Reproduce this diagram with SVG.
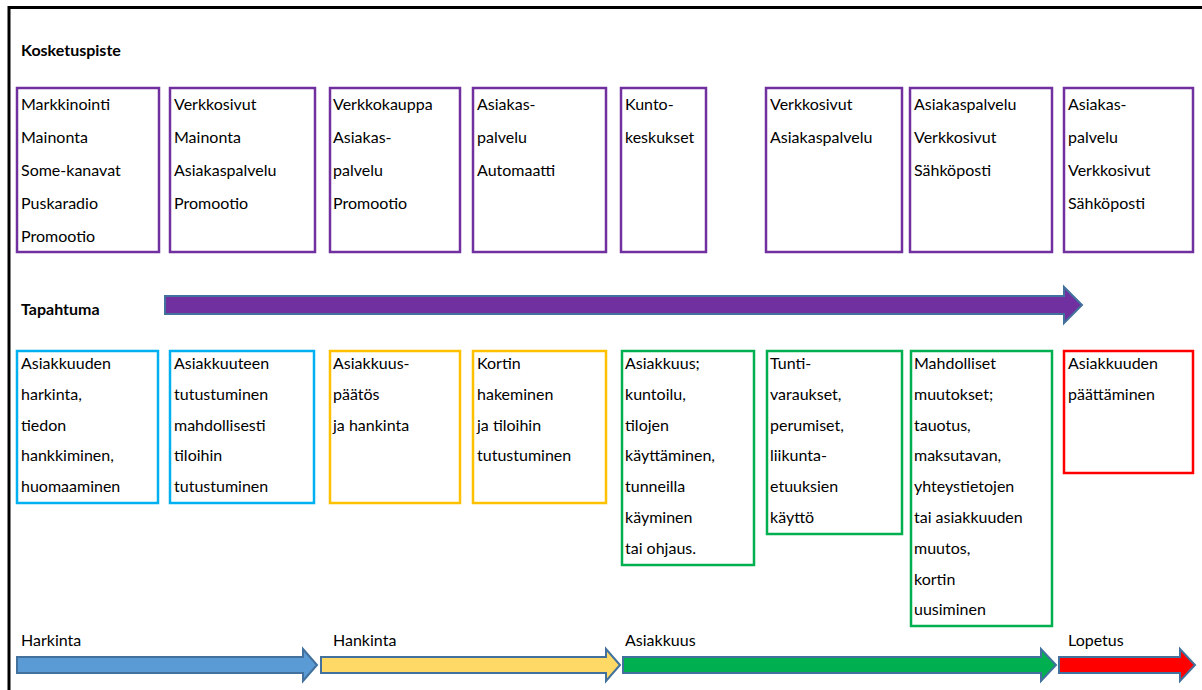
<svg xmlns="http://www.w3.org/2000/svg" width="1202" height="690" viewBox="0 0 1202 690">
<style>
text{font-family:Lato,"Liberation Sans",sans-serif;font-size:16px;fill:#000}
.h{font-weight:bold}
.box{fill:#fff;stroke-width:2.5}
.pu{stroke:#7030A0}.cy{stroke:#00B0F0}.ye{stroke:#FFC000}.gr{stroke:#00B050}.rd{stroke:#FF0000}
.arr{stroke:#41719C;stroke-width:2;stroke-linejoin:miter}
</style>
<rect x="0" y="0" width="1202" height="690" fill="#fff"/>
<path d="M9,690 V7.5 H1202" fill="none" stroke="#000" stroke-width="3"/>
<text class="h" x="21" y="56">Kosketuspiste</text>
<text class="h" x="21" y="315">Tapahtuma</text>

<g id="tp1"><rect class="box pu" x="17" y="88" width="142" height="164"/><text x="21" y="110"><tspan x="21">Markkinointi</tspan><tspan x="21" dy="33">Mainonta</tspan><tspan x="21" dy="33">Some-kanavat</tspan><tspan x="21" dy="33">Puskaradio</tspan><tspan x="21" dy="33">Promootio</tspan></text></g>
<g id="tp2"><rect class="box pu" x="170" y="88" width="145" height="164"/><text x="174" y="110"><tspan x="174">Verkkosivut</tspan><tspan x="174" dy="33">Mainonta</tspan><tspan x="174" dy="33">Asiakaspalvelu</tspan><tspan x="174" dy="33">Promootio</tspan></text></g>
<g id="tp3"><rect class="box pu" x="330" y="88" width="130" height="164"/><text x="333" y="110"><tspan x="333">Verkkokauppa</tspan><tspan x="333" dy="33">Asiakas-</tspan><tspan x="333" dy="33">palvelu</tspan><tspan x="333" dy="33">Promootio</tspan></text></g>
<g id="tp4"><rect class="box pu" x="473" y="88" width="133" height="164"/><text x="477" y="110"><tspan x="477">Asiakas-</tspan><tspan x="477" dy="33">palvelu</tspan><tspan x="477" dy="33">Automaatti</tspan></text></g>
<g id="tp5"><rect class="box pu" x="621" y="88" width="85" height="164"/><text x="625" y="110"><tspan x="625">Kunto-</tspan><tspan x="625" dy="33">keskukset</tspan></text></g>
<g id="tp6"><rect class="box pu" x="766" y="88" width="136" height="164"/><text x="770" y="110"><tspan x="770">Verkkosivut</tspan><tspan x="770" dy="33">Asiakaspalvelu</tspan></text></g>
<g id="tp7"><rect class="box pu" x="910" y="88" width="142" height="164"/><text x="914" y="110"><tspan x="914">Asiakaspalvelu</tspan><tspan x="914" dy="33">Verkkosivut</tspan><tspan x="914" dy="33">Sähköposti</tspan></text></g>
<g id="tp8"><rect class="box pu" x="1064" y="88" width="129" height="164"/><text x="1068" y="110"><tspan x="1068">Asiakas-</tspan><tspan x="1068" dy="33">palvelu</tspan><tspan x="1068" dy="33">Verkkosivut</tspan><tspan x="1068" dy="33">Sähköposti</tspan></text></g>

<g id="ev1"><rect class="box cy" x="17" y="351" width="141" height="152"/><text x="21" y="369"><tspan x="21">Asiakkuuden</tspan><tspan x="21" dy="30.8">harkinta,</tspan><tspan x="21" dy="30.8">tiedon</tspan><tspan x="21" dy="30.8">hankkiminen,</tspan><tspan x="21" dy="30.8">huomaaminen</tspan></text></g>
<g id="ev2"><rect class="box cy" x="170" y="351" width="144" height="152"/><text x="174" y="369"><tspan x="174">Asiakkuuteen</tspan><tspan x="174" dy="30.8">tutustuminen</tspan><tspan x="174" dy="30.8">mahdollisesti</tspan><tspan x="174" dy="30.8">tiloihin</tspan><tspan x="174" dy="30.8">tutustuminen</tspan></text></g>
<g id="ev3"><rect class="box ye" x="330" y="351" width="130" height="152"/><text x="333" y="369"><tspan x="333">Asiakkuus-</tspan><tspan x="333" dy="30.8">päätös</tspan><tspan x="333" dy="30.8">ja hankinta</tspan></text></g>
<g id="ev4"><rect class="box ye" x="473" y="351" width="133" height="152"/><text x="477" y="369"><tspan x="477">Kortin</tspan><tspan x="477" dy="30.8">hakeminen</tspan><tspan x="477" dy="30.8">ja tiloihin</tspan><tspan x="477" dy="30.8">tutustuminen</tspan></text></g>
<g id="ev5"><rect class="box gr" x="622" y="351" width="132" height="214"/><text x="625" y="369"><tspan x="625">Asiakkuus;</tspan><tspan x="625" dy="30.8">kuntoilu,</tspan><tspan x="625" dy="30.8">tilojen</tspan><tspan x="625" dy="30.8">käyttäminen,</tspan><tspan x="625" dy="30.8">tunneilla</tspan><tspan x="625" dy="30.8">käyminen</tspan><tspan x="625" dy="30.8">tai ohjaus.</tspan></text></g>
<g id="ev6"><rect class="box gr" x="767" y="351" width="135" height="183"/><text x="770" y="369"><tspan x="770">Tunti-</tspan><tspan x="770" dy="30.8">varaukset,</tspan><tspan x="770" dy="30.8">perumiset,</tspan><tspan x="770" dy="30.8">liikunta-</tspan><tspan x="770" dy="30.8">etuuksien</tspan><tspan x="770" dy="30.8">käyttö</tspan></text></g>
<g id="ev7"><rect class="box gr" x="911" y="351" width="141" height="275"/><text x="914" y="369"><tspan x="914">Mahdolliset</tspan><tspan x="914" dy="30.8">muutokset;</tspan><tspan x="914" dy="30.8">tauotus,</tspan><tspan x="914" dy="30.8">maksutavan,</tspan><tspan x="914" dy="30.8">yhteystietojen</tspan><tspan x="914" dy="30.8">tai asiakkuuden</tspan><tspan x="914" dy="30.8">muutos,</tspan><tspan x="914" dy="30.8">kortin</tspan><tspan x="914" dy="30.8">uusiminen</tspan></text></g>
<g id="ev8"><rect class="box rd" x="1064" y="351" width="129" height="122"/><text x="1068" y="369"><tspan x="1068">Asiakkuuden</tspan><tspan x="1068" dy="30.8">päättäminen</tspan></text></g>

<g id="phases">
<text x="21" y="646">Harkinta</text>
<text x="333" y="646">Hankinta</text>
<text x="625" y="646">Asiakkuus</text>
<text x="1068" y="646">Lopetus</text>
</g>

<g id="connectors">
<polygon class="arr" fill="#7030A0" points="165,296 1064,296 1064,287 1082,305 1064,323 1064,314 165,314"/>
<polygon class="arr" fill="#5B9BD5" points="17,657 303,657 303,649 317,665 303,681 303,673 17,673"/>
<polygon class="arr" fill="#FFD966" points="321,657 606,657 606,649 620,665 606,681 606,673 321,673"/>
<polygon class="arr" fill="#00B050" points="623,657 1041,657 1041,649 1056,665 1041,681 1041,673 623,673"/>
<polygon class="arr" fill="#FF0000" points="1059,657 1180,657 1180,649 1195,665 1180,681 1180,673 1059,673"/>
</g>
</svg>
